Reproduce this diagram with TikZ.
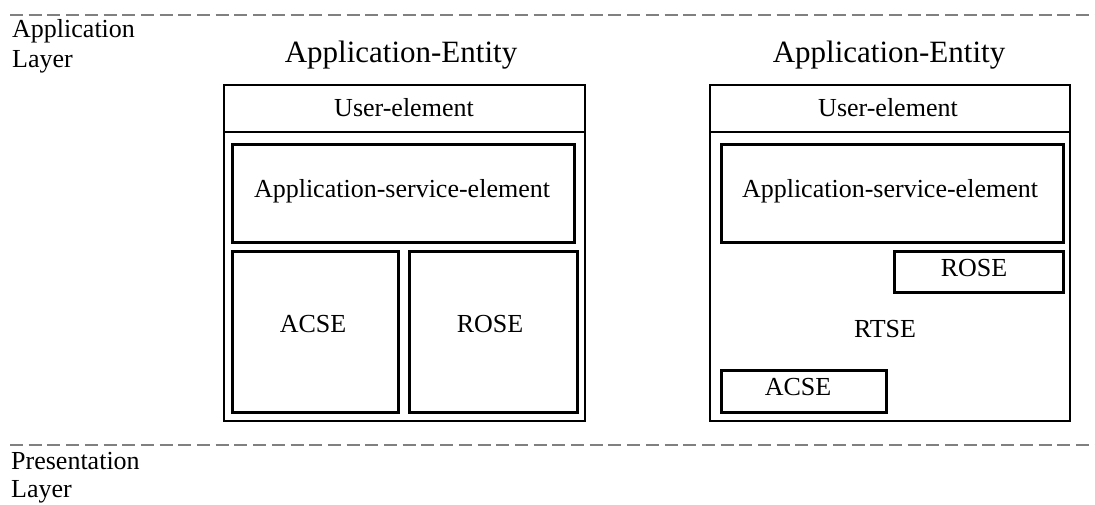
\documentclass[tikz,border=0pt]{standalone}
\usepackage{fontspec}
\setmainfont{Liberation Serif}
\begin{document}
\begin{tikzpicture}[x=1pt,y=-1pt,
  outerbox/.style={draw=black,line width=2pt,rectangle,inner sep=0pt,outer sep=0pt,anchor=north west},
  innerbox/.style={draw=black,line width=3pt,rectangle,inner sep=0pt,outer sep=0pt,anchor=north west},
  lbl/.style={font=\fontsize{26}{30}\selectfont,inner sep=0pt,anchor=base},
  side/.style={font=\fontsize{26}{30}\selectfont,inner sep=0pt,anchor=base west},
  title/.style={font=\fontsize{31}{36}\selectfont,inner sep=0pt,anchor=base},
  layerline/.style={draw={rgb,255:red,128;green,128;blue,128},line width=2.3pt,dash pattern=on 13pt off 5.7pt}]
\useasboundingbox (0,0) rectangle (1095,504);

% layer lines
\coordinate (t1) at (10,15);
\coordinate (t2) at (1095,15);
\coordinate (b1) at (10,445);
\coordinate (b2) at (1095,445);
\draw[layerline] (t1) -- (t2);
\draw[layerline] (b1) -- (b2);

\node[side] (al1) at (12,37) {Application};
\node[side] (al2) at (12,67) {Layer};
\node[side] (pl1) at (11,469) {Presentation};
\node[side] (pl2) at (11,497) {Layer};

% left entity
\node[title] (titleL) at (401,62) {Application-Entity};
\node[outerbox,minimum width=361pt,minimum height=336pt] (AEL) at (224,85) {};
\coordinate (dL1) at (224,132);
\coordinate (dL2) at (585,132);
\draw[line width=2pt] (dL1) -- (dL2);
\node[lbl] (ueL) at (404,116) {User-element};
\node[innerbox,minimum width=342pt,minimum height=98pt] (aseL) at (232,144) {};
\node[lbl] (aseLt) at (402,197) {Application-service-element};
\node[innerbox,minimum width=166pt,minimum height=161pt] (acseL) at (232,251) {};
\node[lbl] (acseLt) at (313,332) {ACSE};
\node[innerbox,minimum width=168pt,minimum height=161pt] (roseL) at (409,251) {};
\node[lbl] (roseLt) at (490,332) {ROSE};

% right entity
\node[title] (titleR) at (889,62) {Application-Entity};
\node[outerbox,minimum width=360pt,minimum height=336pt] (AER) at (710,85) {};
\coordinate (dR1) at (710,132);
\coordinate (dR2) at (1070,132);
\draw[line width=2pt] (dR1) -- (dR2);
\node[lbl] (ueR) at (888,116) {User-element};
\node[innerbox,minimum width=342pt,minimum height=98pt] (aseR) at (721,144) {};
\node[lbl] (aseRt) at (890,197) {Application-service-element};
\node[innerbox,minimum width=169pt,minimum height=41pt] (roseR) at (894,251) {};
\node[lbl] (roseRt) at (974,276) {ROSE};
\node[lbl] (rtse) at (885,337) {RTSE};
\node[innerbox,minimum width=165pt,minimum height=42pt] (acseR) at (721,370) {};
\node[lbl] (acseRt) at (798,395) {ACSE};
\end{tikzpicture}
\end{document}
